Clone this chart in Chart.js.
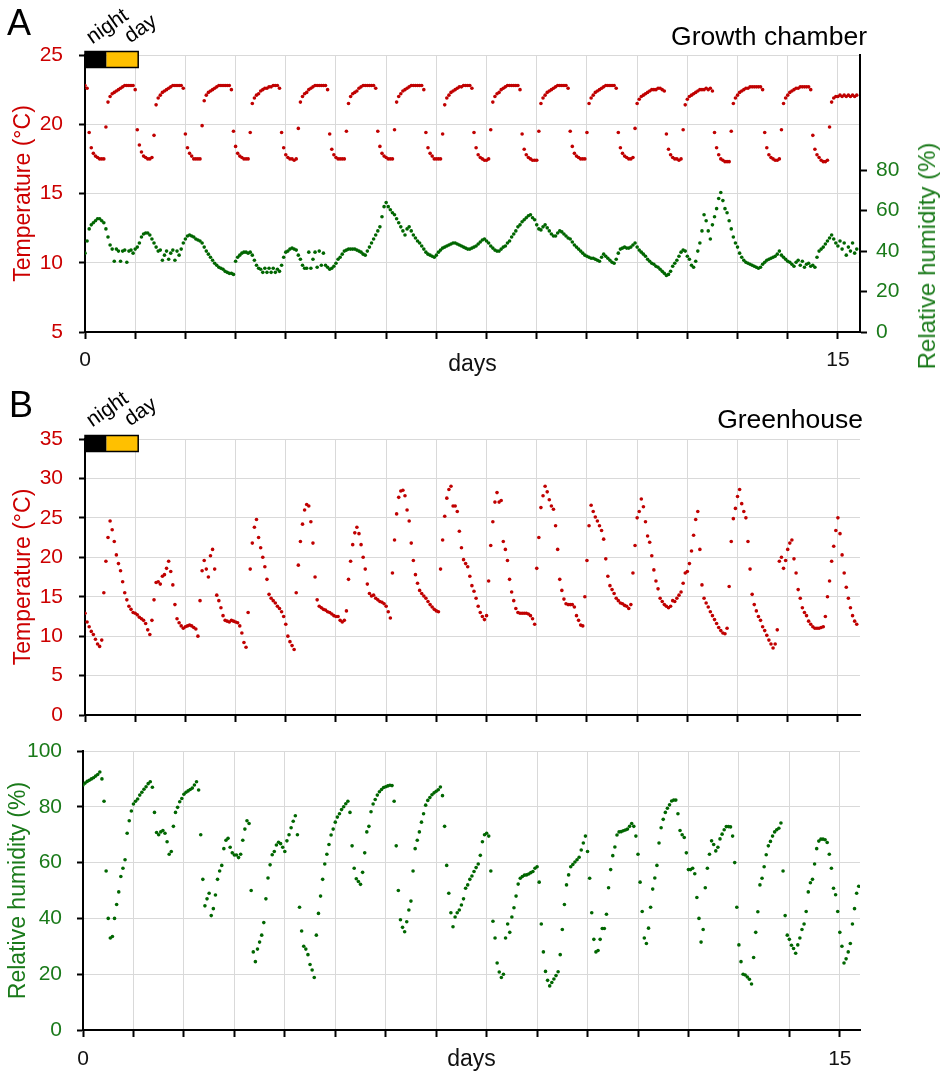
<!DOCTYPE html>
<html lang="en">
<head>
<meta charset="UTF-8">
<title>Temperature and humidity: growth chamber and greenhouse</title>
<script src="https://cdn.jsdelivr.net/npm/chart.js"></script>
<style>
  body { margin: 0; background: #fff; }
  #page { position: relative; width: 946px; height: 1079px; overflow: hidden;
          font-family: "Liberation Sans", Arial, sans-serif; }
  #page canvas { position: absolute; left: 0; }
  .txt { position: absolute; white-space: nowrap; line-height: 1; }
  .letter { font-size: 36px; color: #000; }
  .place { font-size: 26.5px; color: #000; }
  .tag { font-size: 21px; color: #000; transform: rotate(-35deg); transform-origin: 0 100%; }
  .rh-right { font-size: 24px; color: #1a7a1a; transform: translate(-50%, -50%) rotate(-90deg); }
</style>
</head>
<body>
<div id="page">
  <canvas id="chamber" width="946" height="380" style="top:0"></canvas>
  <canvas id="greenT" width="946" height="340" style="top:383px"></canvas>
  <canvas id="greenH" width="946" height="356" style="top:723px"></canvas>

  <div class="txt letter" style="left:7px; top:5px">A</div>
  <div class="txt letter" style="left:9px; top:387px">B</div>
  <div class="txt place" style="right:79px; top:23px">Growth chamber</div>
  <div class="txt place" style="right:83px; top:406px">Greenhouse</div>
  <div class="txt tag" style="left:94px; top:26px">night</div>
  <div class="txt tag" style="left:132px; top:25px">day</div>
  <div class="txt tag" style="left:94px; top:409px">night</div>
  <div class="txt tag" style="left:132px; top:408px">day</div>
  <div class="txt rh-right" style="left:927px; top:256px">Relative humidity (%)</div>
</div>

<script>
// readings are hourly, starting at day 0
const STEP = 1 / 24;

const dayTicks = [0, 1, 2, 3, 4, 5, 6, 7, 8, 9, 10, 11, 12, 13, 14, 15];
const labelledDays = [0, 15];
const tempTicksA = [5, 10, 15, 20, 25];
const humTicksA = [0, 20, 40, 60, 80];
const tempTicksB = [0, 5, 10, 15, 20, 25, 30, 35];
const humTicksC = [0, 20, 40, 60, 80, 100];
// night from 0, lights on, end of first day (days)
const nightDay = [0, 0.43, 1.06];

// A: growth chamber temperature (°C), one row per light cycle
const chamberTemp = [22.8,
  22.6, 19.4, 18.3, 17.9, 17.7, 17.6, 17.5, 17.5, 17.5, 19.8, 21.6, 22.0, 22.2, 22.3, 22.4, 22.5, 22.6, 22.7, 22.8, 22.8, 22.8, 22.8, 22.8,
  22.5, 19.6, 18.5, 18.0, 17.7, 17.6, 17.5, 17.5, 17.6, 19.2, 21.4, 21.9, 22.1, 22.3, 22.4, 22.5, 22.6, 22.7, 22.8, 22.8, 22.8, 22.8, 22.8,
  22.6, 19.3, 18.3, 17.9, 17.7, 17.5, 17.5, 17.5, 17.5, 19.9, 21.7, 22.1, 22.3, 22.4, 22.5, 22.6, 22.7, 22.8, 22.8, 22.8, 22.8, 22.8, 22.8,
  22.5, 19.5, 18.4, 17.9, 17.7, 17.6, 17.5, 17.5, 17.5, 19.4, 21.5, 21.9, 22.1, 22.2, 22.4, 22.5, 22.6, 22.6, 22.7, 22.7, 22.8, 22.8, 22.8,
  22.6, 19.4, 18.3, 17.8, 17.6, 17.5, 17.5, 17.4, 17.5, 19.7, 21.6, 22.0, 22.2, 22.3, 22.5, 22.6, 22.7, 22.8, 22.8, 22.8, 22.8, 22.8, 22.8,
  22.5, 19.3, 18.2, 17.8, 17.6, 17.5, 17.5, 17.5, 17.5, 19.5, 21.5, 22.0, 22.2, 22.3, 22.4, 22.6, 22.7, 22.8, 22.8, 22.8, 22.8, 22.8, 22.8,
  22.6, 19.5, 18.4, 17.9, 17.7, 17.6, 17.5, 17.5, 17.5, 19.6, 21.6, 22.0, 22.2, 22.4, 22.5, 22.6, 22.7, 22.8, 22.8, 22.8, 22.8, 22.8, 22.8,
  22.5, 19.4, 18.3, 17.9, 17.7, 17.5, 17.5, 17.5, 17.5, 19.3, 21.4, 21.9, 22.1, 22.3, 22.4, 22.5, 22.6, 22.7, 22.7, 22.8, 22.8, 22.8, 22.8,
  22.6, 19.4, 18.3, 17.8, 17.6, 17.5, 17.4, 17.4, 17.5, 19.6, 21.6, 22.0, 22.2, 22.3, 22.5, 22.6, 22.7, 22.8, 22.8, 22.8, 22.8, 22.8, 22.8,
  22.5, 19.3, 18.2, 17.8, 17.6, 17.5, 17.4, 17.4, 17.4, 19.5, 21.5, 21.9, 22.1, 22.3, 22.4, 22.5, 22.6, 22.7, 22.8, 22.8, 22.8, 22.8, 22.8,
  22.6, 19.5, 18.4, 17.9, 17.7, 17.6, 17.5, 17.5, 17.5, 19.4, 21.5, 21.9, 22.1, 22.3, 22.4, 22.5, 22.6, 22.7, 22.8, 22.8, 22.8, 22.8, 22.8,
  22.6, 19.4, 18.3, 17.9, 17.7, 17.6, 17.5, 17.5, 17.6, 19.7, 21.5, 21.8, 22.0, 22.1, 22.2, 22.3, 22.4, 22.5, 22.5, 22.5, 22.6, 22.6, 22.5,
  22.4, 19.3, 18.2, 17.8, 17.6, 17.5, 17.5, 17.4, 17.5, 19.6, 21.4, 21.8, 22.0, 22.1, 22.2, 22.3, 22.4, 22.5, 22.5, 22.5, 22.6, 22.5, 22.6,
  22.4, 19.4, 18.3, 17.8, 17.5, 17.4, 17.3, 17.3, 17.3, 19.5, 21.5, 21.9, 22.1, 22.3, 22.4, 22.5, 22.6, 22.6, 22.7, 22.7, 22.7, 22.7, 22.7, 22.7,
  22.5, 19.4, 18.3, 17.8, 17.6, 17.5, 17.4, 17.4, 17.5, 19.6, 21.5, 21.9, 22.1, 22.3, 22.4, 22.5, 22.6, 22.6, 22.7, 22.7, 22.7, 22.7, 22.7,
  22.5, 19.2, 18.2, 17.8, 17.6, 17.4, 17.3, 17.3, 17.4, 19.8, 21.6, 21.9, 22.0, 22.0, 22.1, 22.0, 22.1, 22.0, 22.1, 22.0, 22.1, 22.0, 22.1
];

// A: growth chamber relative humidity (%), 24 readings per row
const chamberHum = [
  39, 45, 51, 53, 54, 55, 56, 56, 55, 54, 51, 47, 43, 41, 35, 41, 40, 35, 40, 40.5, 34.5, 40, 40.5, 39,
  41, 42, 44, 47, 48.5, 49, 49, 48, 46, 44, 42, 40, 40.5, 35.5, 38, 40, 36, 39, 40.5, 35.5, 40, 38, 41, 44,
  46, 47.5, 48, 47.5, 47, 46, 45.5, 45, 44, 42, 40, 38.5, 37, 35.5, 34, 33, 32, 31.5, 31, 30, 29.5, 29, 29, 28.5,
  35, 37, 38, 39, 39.5, 39.5, 39, 39.5, 38, 35.5, 33, 31.5, 31, 29.5, 31.5, 29.5, 31.5, 29.5, 31.5, 29.5, 31, 30, 33, 37,
  39.5, 40, 41, 41.5, 41, 40.5, 38, 36, 33, 31.5, 31.5, 39.5, 31.5, 36, 39.5, 32, 40, 33, 39, 33, 32, 31, 31.5, 32.5,
  34, 36, 37, 38.5, 40, 40.5, 41, 41, 41, 41, 40.5, 40, 39.5, 38.5, 38, 40, 42, 44, 46, 48, 50, 52, 57, 62,
  64, 62, 60.5, 59, 58, 56, 54, 52, 50, 48, 51, 52, 50, 48, 46.5, 45, 44, 42.5, 41, 39.5, 38.5, 38, 37.5, 37,
  38, 39.5, 40.5, 41.5, 42, 42.5, 43, 43.5, 44, 44, 43.5, 43, 42.5, 42, 41.5, 41, 41, 41.5, 42, 42.5, 43.5, 44.5, 45.5, 46,
  45, 44, 42.5, 41.5, 40.5, 40, 40, 41, 42, 42.5, 44, 45, 47, 48.5, 50, 52, 53, 54.5, 55.5, 56.5, 57.5, 58, 56.5, 55.5,
  53, 51, 50.5, 52, 53, 51.5, 50, 48.5, 47.5, 47.5, 49, 50, 49.5, 48.5, 47.5, 46.5, 46, 44.5, 43, 42, 41, 40, 39, 38,
  37.5, 37, 36.5, 36.5, 36, 35.5, 35, 37, 38.5, 37.5, 36.5, 35.5, 34.5, 34, 36, 39, 41, 41.5, 42, 41.5, 41.5, 42, 43, 44,
  42, 40.5, 39.5, 38.5, 37.5, 36, 35, 34, 33.5, 32.5, 32, 31, 30, 29, 28, 28.5, 30, 32.5, 34, 35.5, 37.5, 39.5, 40.5, 40,
  37.5, 36, 33, 32, 35, 40, 44, 50, 58, 55, 50, 46, 53, 57, 61, 66, 69, 65, 61, 59, 55, 51, 47, 44,
  42, 39, 37, 35.5, 34.5, 34, 33.5, 33, 32.5, 32, 31.5, 32, 33.5, 34.5, 35.5, 36, 36.5, 37, 37.5, 38.5, 40, 38, 37, 36,
  35, 34.5, 33.5, 32.5, 34.5, 35.5, 33, 35, 32, 33.5, 34, 32.5, 33, 32, 37, 40, 41, 42, 43.5, 45, 46.5, 48, 46, 44,
  42.5, 45, 41, 44, 38, 42, 40, 44, 39, 41
];

// B: greenhouse temperature (°C), 24 readings per row
const greenTemp = [
  12.9, 11.8, 11.2, 10.6, 10.2, 9.6, 9.0, 8.7, 9.5, 15.5, 19.5, 22.5, 24.6, 23.5, 22.0, 20.3, 19.2, 18.3, 16.9, 15.5, 14.6, 13.8, 13.4, 13.0,
  12.9, 12.7, 12.4, 12.2, 12.0, 11.6, 10.8, 10.2, 12.0, 14.6, 16.8, 16.9, 16.6, 17.6, 17.8, 18.6, 19.5, 18.2, 16.5, 14.0, 12.2, 11.7, 11.3, 11.0,
  11.2, 11.3, 11.4, 11.3, 11.1, 10.9, 10.0, 14.5, 18.3, 19.6, 18.5, 17.5, 20.2, 21.0, 18.5, 15.2, 14.5, 13.6, 12.6, 12.0, 11.9, 11.8, 12.0, 11.9,
  11.8, 11.7, 11.3, 10.4, 9.2, 8.6, 13.0, 18.5, 21.8, 23.8, 24.8, 22.5, 21.2, 20.0, 18.8, 17.2, 15.3, 14.8, 14.5, 14.2, 13.8, 13.5, 13.1, 12.5,
  11.5, 10.0, 9.3, 8.8, 8.3, 15.5, 19.0, 22.0, 24.2, 26.0, 26.7, 26.5, 24.5, 21.8, 17.5, 14.6, 13.8, 13.6, 13.4, 13.3, 13.1, 13.0, 12.8, 12.6,
  12.5, 12.5, 12.0, 11.8, 12.0, 13.2, 17.2, 19.5, 21.6, 23.1, 23.8, 23.0, 21.6, 20.0, 18.5, 16.6, 15.4, 15.1, 15.2, 14.8, 14.6, 14.4, 14.3, 14.1,
  13.8, 13.1, 12.3, 18.0, 22.2, 25.5, 27.6, 28.4, 28.5, 27.8, 26.0, 24.6, 21.8, 19.6, 17.8, 16.7, 15.8, 15.4, 15.1, 14.8, 14.4, 14.0, 13.7, 13.4,
  13.2, 13.1, 18.5, 22.2, 25.2, 27.5, 28.6, 29.0, 26.5, 26.5, 25.8, 23.3, 21.2, 19.7, 19.2, 18.8, 17.6, 16.4, 15.7, 14.8, 13.8, 13.0, 12.5, 12.1,
  12.6, 17.0, 21.5, 24.5, 27.0, 28.2, 27.0, 27.2, 22.0, 21.0, 19.6, 17.2, 15.6, 14.5, 13.5, 13.0, 12.9, 12.9, 12.9, 12.9, 12.8, 12.6, 12.2, 11.5,
  18.6, 22.5, 26.3, 27.8, 29.0, 28.3, 27.3, 26.5, 26.1, 24.0, 21.0, 17.2, 15.8, 14.7, 14.1, 14.0, 14.0, 14.0, 13.7, 12.6, 12.0, 11.4, 11.3, 15.0,
  19.6, 24.0, 26.6, 25.8, 25.1, 24.6, 24.0, 23.4, 22.3, 19.8, 17.6, 16.4, 15.9, 15.4, 14.8, 14.5, 14.2, 14.1, 13.9, 13.8, 13.5, 14.0, 18.0, 21.5,
  25.0, 25.8, 27.4, 26.4, 24.5, 22.7, 21.9, 20.2, 18.4, 17.0, 16.0, 14.8, 14.4, 14.0, 13.8, 13.6, 13.8, 14.5, 14.4, 14.8, 15.2, 15.6, 16.7, 18.0,
  18.2, 19.2, 20.8, 22.8, 24.8, 25.8, 21.0, 16.5, 14.8, 14.2, 13.7, 13.1, 12.6, 12.1, 11.6, 11.1, 10.7, 10.4, 10.3, 11.0, 16.3, 22.0, 24.9, 26.2,
  27.7, 28.6, 26.8, 25.8, 25.0, 22.0, 18.5, 15.3, 14.0, 13.2, 12.5, 12.0, 11.2, 10.7, 10.1, 9.5, 9.0, 8.5, 9.0, 10.8, 19.5, 20.0, 18.6, 19.6,
  21.0, 21.8, 22.2, 19.8, 18.0, 15.9, 14.8, 13.6, 13.0, 12.6, 11.9, 11.5, 11.2, 11.0, 11.0, 11.0, 11.1, 11.2, 12.5, 15.0, 17.0, 19.5, 21.4, 23.4,
  25.0, 23.0, 20.3, 18.0, 16.2, 14.8, 13.6, 12.6, 11.9, 11.5
];

// C: greenhouse relative humidity (%), 24 readings per row
const greenHum = [
  87.8, 88.5, 89.1, 89.5, 90.0, 90.4, 91.0, 91.6, 92.5, 90.0, 82.0, 57.0, 40.0, 33.0, 33.5, 40.0, 45.0, 49.5, 55.0, 58.0, 61.0, 70.5, 75.0, 78.5,
  81.0, 82.0, 82.8, 84.2, 85.2, 86.3, 87.2, 88.3, 89.0, 87.0, 78.0, 70.8, 70.0, 71.0, 71.5, 70.5, 67.5, 63.0, 64.0, 73.0, 78.0, 79.8, 81.8, 83.0,
  84.5, 85.2, 85.7, 86.2, 86.7, 87.8, 89.0, 86.0, 70.0, 54.0, 44.5, 47.0, 49.0, 41.0, 43.5, 48.4, 54.0, 57.0, 59.0, 65.0, 68.0, 68.7, 65.5, 63.5,
  62.7, 62.7, 61.8, 63.0, 68.0, 72.0, 75.0, 74.0, 50.0, 28.0, 24.5, 29.0, 31.5, 34.0, 38.5, 47.0, 54.5, 59.2, 62.8, 64.0, 66.3, 67.3, 66.8, 65.5,
  64.0, 67.8, 70.0, 72.5, 74.8, 76.8, 70.0, 44.0, 35.5, 30.0, 29.0, 27.0, 23.5, 21.5, 18.8, 34.0, 41.8, 48.0, 54.0, 59.5, 63.0, 66.5, 69.9, 72.0,
  74.5, 76.3, 77.5, 79.0, 80.0, 81.1, 82.0, 78.0, 66.0, 58.0, 54.2, 53.2, 52.2, 56.5, 63.5, 71.0, 73.0, 78.2, 81.0, 82.6, 84.2, 85.4, 86.2, 86.9,
  87.2, 87.5, 87.7, 87.6, 82.0, 66.0, 50.0, 39.5, 36.8, 35.2, 38.8, 43.0, 46.2, 57.0, 65.0, 68.0, 71.0, 74.5, 77.5, 80.6, 82.3, 83.3, 84.3, 85.0,
  85.6, 86.1, 87.1, 84.0, 73.0, 59.0, 49.0, 42.0, 37.0, 40.5, 42.0, 43.0, 44.8, 47.0, 50.8, 52.0, 54.0, 55.2, 56.8, 58.2, 59.5, 62.6, 67.5, 70.0,
  70.5, 69.5, 57.0, 39.0, 33.0, 24.0, 20.8, 18.8, 20.0, 33.0, 38.0, 35.0, 40.5, 43.8, 48.0, 52.3, 54.4, 55.0, 55.5, 55.6, 55.9, 56.4, 56.8, 58.0,
  58.5, 53.0, 38.0, 28.0, 21.0, 17.8, 15.8, 17.0, 18.3, 19.5, 20.9, 27.0, 36.0, 45.0, 52.0, 55.6, 58.5, 59.3, 60.2, 61.0, 61.9, 64.5, 67.0, 69.5,
  64.0, 54.4, 42.0, 32.5, 28.0, 28.5, 32.5, 36.4, 36.4, 41.5, 51.0, 57.5, 62.5, 65.6, 69.9, 71.0, 71.1, 71.4, 71.7, 72.0, 73.0, 74.0, 73.0, 69.5,
  63.0, 53.0, 42.5, 33.0, 31.0, 36.5, 44.0, 50.5, 54.5, 59.0, 67.0, 72.5, 75.5, 78.0, 79.5, 80.7, 82.1, 82.4, 82.4, 77.5, 71.5, 70.0, 69.0, 63.5,
  57.5, 57.5, 58.0, 56.0, 47.5, 40.0, 31.5, 36.0, 51.0, 58.0, 63.0, 67.8, 66.5, 64.2, 65.5, 68.5, 70.2, 71.8, 72.9, 72.9, 72.8, 69.5, 60.0, 44.0,
  30.5, 24.5, 20.0, 19.7, 19.0, 18.2, 16.5, 26.0, 35.0, 42.4, 52.0, 54.4, 58.5, 62.8, 66.0, 67.6, 69.5, 71.0, 71.8, 72.3, 74.2, 57.0, 41.0, 34.0,
  32.5, 30.4, 29.2, 27.5, 30.5, 33.0, 36.0, 38.0, 42.5, 49.5, 52.8, 54.0, 59.5, 65.0, 67.7, 68.4, 68.4, 68.2, 67.2, 63.0, 58.0, 50.8, 48.5, 42.5,
  35.0, 30.0, 24.0, 25.5, 28.0, 31.0, 38.0, 43.5, 49.0, 51.5
];

const RED = '#c00000', RED_TXT = '#cc0000';
const GREEN = '#006600', GREEN_TXT = '#1a7a1a';
const GRID = '#d9d9d9';

Chart.defaults.font.family = '"Liberation Sans", Arial, sans-serif';
Chart.defaults.animation = false;

function pts(arr) {
  return arr.map((v, i) => ({ x: i * STEP, y: v }));
}

function dots(arr, color, axis) {
  return { data: pts(arr), yAxisID: axis, showLine: false, pointRadius: 1.8,
           pointBorderWidth: 0, backgroundColor: color, borderColor: color };
}

// black bar with night / day split, drawn at the top left of the plot
const nightDayBar = {
  id: 'nightday',
  afterDatasetsDraw(chart, args, opts) {
    if (!opts.show) return;
    const { ctx, chartArea } = chart;
    const x = chart.scales.x;
    const x0 = x.getPixelForValue(nightDay[0]);
    const x1 = x.getPixelForValue(nightDay[1]);
    const x2 = x.getPixelForValue(nightDay[2]);
    const top = chartArea.top - 4, h = 17;
    ctx.save();
    ctx.fillStyle = '#000';
    ctx.fillRect(x0, top, x1 - x0, h);
    ctx.fillStyle = '#ffc000';
    ctx.fillRect(x1, top, x2 - x1, h);
    ctx.strokeStyle = '#000';
    ctx.lineWidth = 1.5;
    ctx.strokeRect(x0, top + 0.5, x2 - x0, h - 1);
    ctx.restore();
  }
};

function xAxis(height, max, showLabels, labelPad, titlePad) {
  return {
    type: 'linear', min: 0, max: max,
    afterBuildTicks: s => { s.ticks = dayTicks.map(v => ({ value: v })); },
    afterFit: s => { s.height = height; s.paddingLeft = 0; s.paddingRight = 0; },
    grid: { color: GRID, tickColor: '#000', tickWidth: 2, tickLength: 7 },
    border: { color: '#000', width: 2 },
    ticks: { display: showLabels, autoSkip: false, maxRotation: 0, padding: labelPad,
             color: '#111', font: { size: 21 },
             callback: v => labelledDays.includes(v) ? String(v) : '' },
    title: { display: showLabels, text: 'days', color: '#111', font: { size: 23 },
             padding: { top: 0, bottom: titlePad } }
  };
}

function yAxis(opts) {
  return {
    type: 'linear', position: opts.pos, min: opts.min, max: opts.max,
    afterBuildTicks: s => { s.ticks = opts.ticks.map(v => ({ value: v })); },
    afterFit: s => { s.width = opts.width; s.paddingTop = 0; s.paddingBottom = 0; },
    grid: { color: GRID, drawOnChartArea: opts.grid, tickColor: '#000', tickWidth: 2,
            tickLength: opts.tick },
    border: { color: '#000', width: 2 },
    ticks: { color: opts.color, font: { size: 21 }, padding: opts.pad },
    title: { display: !!opts.title, text: opts.title || '', color: opts.color,
             font: { size: 23 }, padding: { top: opts.titlePad || 0, bottom: 0 } }
  };
}

const common = {
  responsive: false,
  events: [],
  plugins: { legend: { display: false }, tooltip: { enabled: false } }
};

// A: growth chamber
new Chart(document.getElementById('chamber'), {
  type: 'scatter',
  data: { datasets: [dots(chamberHum, GREEN, 'y2'), dots(chamberTemp, RED, 'y')] },
  options: {
    ...common,
    layout: { padding: { top: 55, right: 0, bottom: 0, left: 0 } },
    plugins: { ...common.plugins, nightday: { show: true } },
    scales: {
      x: xAxis(48, 15.44, true, 9, 2),
      y: yAxis({ pos: 'left', min: 5, max: 25, ticks: tempTicksA, width: 85, grid: true,
                 tick: 6, color: RED_TXT, pad: 16, title: 'Temperature (°C)', titlePad: 10 }),
      y2: yAxis({ pos: 'right', min: 0, max: 137, ticks: humTicksA, width: 86, grid: false,
                  tick: 7, color: GREEN_TXT, pad: 9 })
    }
  },
  plugins: [nightDayBar]
});

// B: greenhouse temperature
new Chart(document.getElementById('greenT'), {
  type: 'scatter',
  data: { datasets: [dots(greenTemp, RED, 'y')] },
  options: {
    ...common,
    layout: { padding: { top: 56, right: 86, bottom: 0, left: 0 } },
    plugins: { ...common.plugins, nightday: { show: true } },
    scales: {
      x: xAxis(8, 15.44, false, 0, 0),
      y: yAxis({ pos: 'left', min: 0, max: 35, ticks: tempTicksB, width: 85, grid: true,
                 tick: 6, color: RED_TXT, pad: 16, title: 'Temperature (°C)', titlePad: 10 })
    }
  },
  plugins: [nightDayBar]
});

// C: greenhouse relative humidity
new Chart(document.getElementById('greenH'), {
  type: 'scatter',
  data: { datasets: [dots(greenHum, GREEN, 'y')] },
  options: {
    ...common,
    layout: { padding: { top: 28, right: 86, bottom: 0, left: 0 } },
    plugins: { ...common.plugins, nightday: { show: false } },
    scales: {
      x: xAxis(49, 15.4, true, 10, 6),
      y: yAxis({ pos: 'left', min: 0, max: 100, ticks: humTicksC, width: 83, grid: true,
                 tick: 6, color: GREEN_TXT, pad: 15, title: 'Relative humidity (%)', titlePad: 5 })
    }
  },
  plugins: [nightDayBar]
});
</script>
</body>
</html>
